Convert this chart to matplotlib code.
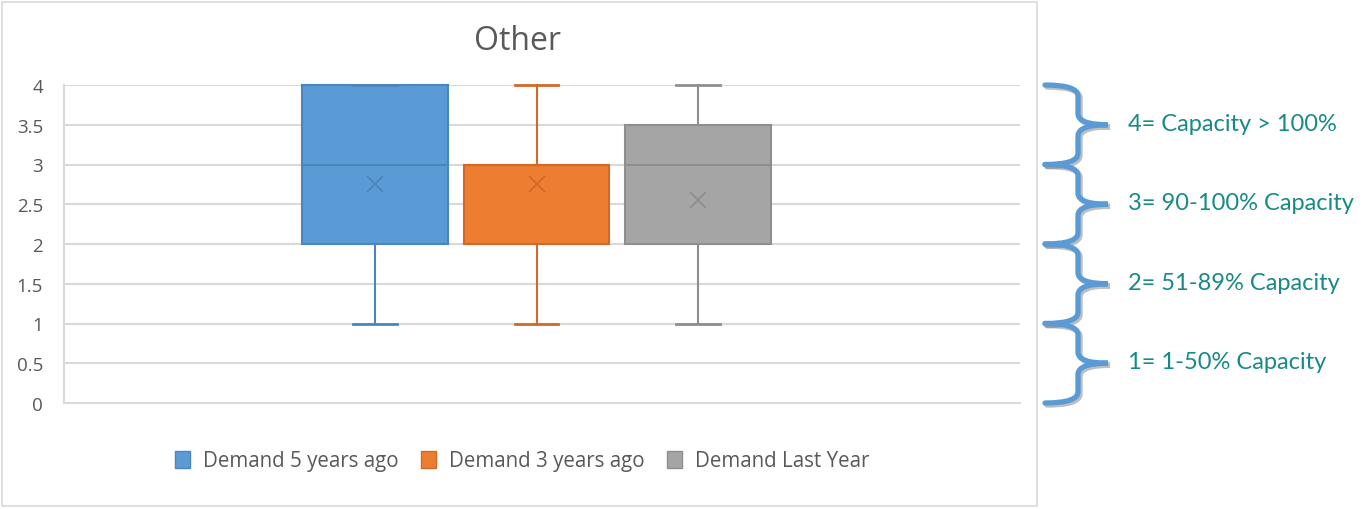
import matplotlib.pyplot as plt
import matplotlib.patheffects as pe
from matplotlib.path import Path
from matplotlib.patches import PathPatch, Rectangle
from matplotlib.transforms import blended_transform_factory

# Box statistics (scale 0-4)
series = ['Demand 5 years ago', 'Demand 3 years ago', 'Demand Last Year']
whislo = [1, 1, 1]
q1 = [2, 2, 2]
med = [3, 3, 3]
q3 = [4, 3, 3.5]
whishi = [4, 4, 4]
means = [2.75, 2.75, 2.55]

yticks = [0, 0.5, 1, 1.5, 2, 2.5, 3, 3.5, 4]
ytick_labels = ['0', '0.5', '1', '1.5', '2', '2.5', '3', '3.5', '4']

# capacity key on the right
key_levels = [4, 3, 2, 1]
key_labels = ['4= Capacity > 100%', '3= 90-100% Capacity',
              '2= 51-89% Capacity', '1= 1-50% Capacity']

fills = ['#5B9BD5', '#ED7D31', '#A5A5A5']
edges = ['#4A85BF', '#D2692A', '#8E8E8E']
text_grey = '#595959'
teal = '#178A86'

plt.rcParams['font.family'] = ['Open Sans', 'DejaVu Sans']

W, H = 1372, 510
fig = plt.figure(figsize=(W / 100, H / 100), dpi=100)
ax = fig.add_axes([64 / W, 1 - 404 / H, (1020 - 64) / W, (404 - 86) / H])

stats = []
for i in range(len(series)):
    stats.append({'whislo': whislo[i], 'q1': q1[i], 'med': med[i],
                  'q3': q3[i], 'whishi': whishi[i], 'mean': means[i],
                  'fliers': [], 'label': series[i]})

positions = [1, 2, 3]
for i, st in enumerate(stats):
    c = edges[i]
    art = ax.bxp([st], positions=[positions[i]], widths=0.9, capwidths=0.27,
                 patch_artist=True, showmeans=True,
                 boxprops=dict(facecolor=fills[i], edgecolor=c, linewidth=1.5),
                 whiskerprops=dict(color=c, linewidth=1.5),
                 capprops=dict(color=c, linewidth=2),
                 medianprops=dict(color=c, linewidth=1.5),
                 meanprops=dict(marker='x', markeredgecolor=c, markersize=11,
                                markeredgewidth=1.3))
    for group in art.values():
        for a in group:
            a.set_clip_on(False)
            a.set_zorder(3)

ax.set_xlim(-0.926, 4.994)
ax.set_ylim(0, 4)
ax.set_yticks(yticks)
ax.set_yticklabels(ytick_labels)
ax.set_xticks([])
ax.grid(axis='y', color='#D9D9D9', linewidth=1.5, zorder=0)
ax.set_axisbelow(True)
for s in ['right', 'top']:
    ax.spines[s].set_visible(False)
for s in ['left', 'bottom']:
    ax.spines[s].set_color('#D9D9D9')
    ax.spines[s].set_linewidth(1.5)
ax.tick_params(axis='y', length=0, pad=15, labelsize=13.5, labelcolor=text_grey)

fig.text(518 / W, 1 - 42 / H, 'Other', ha='center', va='center',
         fontsize=23, color=text_grey)

handles = [Rectangle((0, 0), 1, 1, facecolor=fills[i], edgecolor=edges[i])
           for i in range(len(series))]
fig.legend(handles, series, loc='center', bbox_to_anchor=(522 / W, 1 - 462 / H),
           ncol=3, frameon=False, fontsize=14.8, labelcolor=text_grey,
           handlelength=0.75, handleheight=0.85, handletextpad=0.6,
           columnspacing=1.1)

# chart border
fig.patches.append(Rectangle((2 / W, 3 / H), 1035 / W, 504 / H,
                             transform=fig.transFigure, fill=False,
                             edgecolor='#D9D9D9', linewidth=1.2))

# braces: x in figure fraction, y in data values
tr = blended_transform_factory(fig.transFigure, ax.transData)
xl, xs, xt = 1045 / W, 1078 / W, 1108 / W
d = 0.14
for lvl, lab in zip(key_levels, key_labels):
    top, bot, m = lvl, lvl - 1, lvl - 0.5
    verts = [(xl, top), (xs, top), (xs, top - d),
             (xs, m + d), (xs, m), (xt, m),
             (xs, m), (xs, m - d),
             (xs, bot + d), (xs, bot), (xl, bot)]
    codes = [Path.MOVETO, Path.CURVE3, Path.CURVE3,
             Path.LINETO, Path.CURVE3, Path.CURVE3,
             Path.CURVE3, Path.CURVE3,
             Path.LINETO, Path.CURVE3, Path.CURVE3]
    brace = PathPatch(Path(verts, codes), transform=tr, fill=False,
                      edgecolor='#5B9BD5', linewidth=3.8, clip_on=False,
                      capstyle='round',
                      path_effects=[pe.SimpleLineShadow(offset=(1.5, -1.5),
                                                        shadow_color='#808080',
                                                        alpha=0.5),
                                    pe.Normal()])
    fig.add_artist(brace)
    fig.text(1128 / W, m + 0.02, lab, transform=tr, family=['Lato', 'DejaVu Sans'],
             ha='left', va='center', fontsize=17, color=teal)

fig.savefig('out.png', dpi=100, facecolor='white')
